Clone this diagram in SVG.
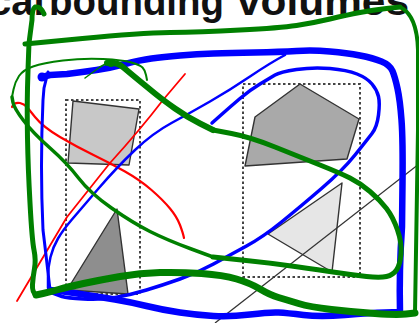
<svg xmlns="http://www.w3.org/2000/svg" width="419" height="323" viewBox="0 0 419 323">
<style>
.t{font-family:"Liberation Sans",Arial,sans-serif;font-weight:bold;font-size:40px;fill:#111}
.box{fill:none;stroke:#444;stroke-width:2;stroke-dasharray:2.5 2.5}
.shp{stroke:#333;stroke-width:1.4;stroke-linejoin:round}
.s{fill:none;stroke-linecap:round;stroke-linejoin:round}
.b{stroke:#0000ff}
.g{stroke:#008000}
.r{stroke:#ff0000}
</style>
<rect width="419" height="323" fill="#fff"/>
<g id="title">
<text class="t" x="-11" y="15">cal</text>
<text class="t" x="49" y="15" textLength="175" lengthAdjust="spacingAndGlyphs">bounding</text>
<text class="t" x="237" y="15" textLength="172" lengthAdjust="spacingAndGlyphs">volumes</text>
</g>
<g id="left-box">
<rect class="box" x="66" y="100" width="74" height="194"/>
<polygon class="shp" fill="#c8c8c8" points="73,101 139,109 129,165 68,163"/>
<polygon class="shp" fill="#8e8e8e" points="117,209 128,294 67,290"/>
</g>
<g id="right-box">
<rect class="box" x="243" y="84" width="117" height="193"/>
<polygon class="shp" fill="#a9a9a9" points="300,84 359,119 347,159 245,166 255,117"/>
<polygon class="shp" fill="#e6e6e6" points="342,183 332,272 268,234"/>
</g>
<g id="strokes">
<path d="M215,323 L419,164" stroke="#333" stroke-width="1.3" fill="none"/>
<path class="s r" stroke-width="1.8" d="M185,74 L163,100 Q140,130 110,163 L67,217 L17,301"/>
<path class="s r" stroke-width="2.2" d="M12,107 Q14,102 20,103 Q24,104 27,107 L35,117 Q43,127 60,137 Q77,147 93.5,155 Q110,163 125,171.5 Q140,180 151.5,190 Q163,200 170,208.5 Q177,217 180,225 Q183,233 184,238"/>
<path class="s b" stroke-width="6.5" d="M42,77 L50,75 L67,74 Q83,72 96.5,70 Q110,68 125,64 Q140,60 151.5,58.5 Q163,57 180,55.5 Q197,54 213.5,53.5 Q230,53 255,52.5 Q280,52 296.5,51 Q313,50 330,51.5 Q347,53 360,55.5 Q373,58 381.5,61.5 Q390,65 392.5,71 Q395,77 397.5,88.5 Q400,100 401.5,120 Q403,140 402.5,183.5 L402,227 Q399,270 400,312 L385,312.5 Q370,313 345,315 Q320,317 303.5,315 Q287,313 278.5,312.5 Q270,312 250,314.5 Q230,317 213.5,316 Q197,315 180,312.5 Q163,310 146.5,306 Q130,302 115,299.5 Q100,297 83.5,294.5 Q67,292 58.5,291 L50,290"/>
<path class="s b" stroke-width="3" d="M50,290 Q47,263 43,230 Q40,167 43,100 L44,88 L48,72"/>
<circle cx="42" cy="77" r="4.5" fill="#0000ff"/>
<path class="s b" stroke-width="2.5" d="M48,288 L48,277.5 Q48,267 50.5,257 Q53,247 58,238.5 Q63,230 71.5,220 Q80,210 98.5,188.5 Q117,167 135,150 Q153,133 171.5,123 Q190,113 210,101.5 Q230,90 250,76.5 Q270,63 285,55"/>
<path class="s b" stroke-width="3.5" d="M212,123 L221,115 Q230,107 240,98.5 Q250,90 260,84 Q270,78 275,75 Q280,72 296.5,69.5 Q313,67 330,68.5 Q347,70 357,74 Q367,78 372,84 Q377,90 378.5,96.5 Q380,103 378.5,115 Q377,127 372,133.5 Q367,140 355,155 Q343,170 321.5,188.5 Q300,207 281.5,222 Q263,237 246.5,246 Q230,255 213.5,264 Q197,273 180,279 Q163,285 146.5,290 Q130,295 115,297.5 Q100,300 83.5,299 Q67,298 62,296.5 L50,292"/>
<path class="s g" stroke-width="5" d="M44,14 Q41,6 35,7 Q32,9 32,20 L29,43 Q28,67 27.5,88 Q27,110 27.5,138 Q28,167 30,203 Q32,240 34,250 Q36,260 34.5,268.5 Q33,277 32.5,284.5 Q32,292 36,295"/>
<path class="s g" stroke-width="7" d="M36,295 L43,293.5 Q50,292 58.5,289.5 Q67,287 83.5,283.5 Q100,280 120,276.5 Q140,273 160,272.5 Q180,272 201.5,273.5 Q223,275 236.5,279 Q250,283 260,289 Q270,295 278.5,297.5 Q287,300 298.5,303.5 Q310,307 331.5,309.5 Q353,312 375,313.5 Q397,315 406,314 L415,313"/>
<path class="s g" stroke-width="4" d="M415,313 L418,130 L418,50 Q417,15 400,7"/>
<path class="s g" stroke-width="5" d="M400,7 L386.5,8.5 Q373,10 360,12.5 Q347,15 330,19 Q313,23 296.5,25.5 Q280,28 240,30 Q200,32 170,32.5 Q140,33 82.5,38.5 L25,44"/>
<path class="s g" stroke-width="2" d="M147,80 L146,75 Q145,70 142.5,67.5 Q140,65 131.5,62.5 Q123,60 103,59 Q83,58 63,60.5 Q43,63 33,66.5 Q23,70 19,76 Q15,82 13.5,89.5 L12,97"/>
<path class="s g" stroke-width="3.5" d="M12,97 L13,102.5 Q14,108 23.5,120.5 Q33,133 50,148 Q67,163 78.5,178 Q90,193 111.5,208 Q133,223 150,231.5 Q167,240 190,248.5 L213,257"/>
<path class="s g" stroke-width="5" d="M213,257 L241.5,260 Q270,263 295,266.5 Q320,270 336.5,272.5 Q353,275 366.5,276.5 Q380,278 386.5,276.5 Q393,275 396.5,270 Q400,265 401,254 Q402,243 397.5,230 Q393,217 386.5,208.5 Q380,200 370,191.5 Q360,183 350,178 Q340,173 320,165 Q300,157 275,147 Q250,137 231.5,133.5 L213,130"/>
<path class="s g" stroke-width="6" d="M213,130 L200,123.5 Q187,117 175,108.5 Q163,100 155,93.5 Q147,87 138.5,80 Q130,73 123.5,67.5 Q117,62 107,63"/>
<circle cx="111" cy="63" r="4" fill="#008000"/>
<path class="s g" stroke-width="1.5" d="M107,63 L100,67 L85,78"/>
</g>
</svg>
